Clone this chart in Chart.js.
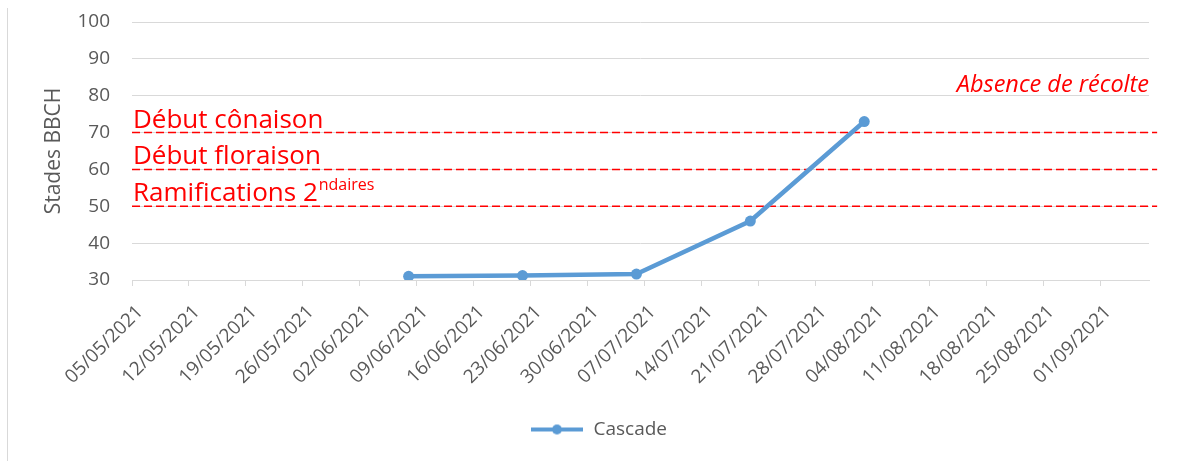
<!DOCTYPE html>
<html>
<head>
<meta charset="utf-8">
<title>Stades BBCH - Cascade</title>
<script src="https://cdn.jsdelivr.net/npm/chart.js@4.4.0/dist/chart.umd.min.js"></script>
<style>
  html, body { margin: 0; padding: 0; background: #fff; }
  #wrap { position: relative; width: 1189px; height: 461px; }
  #wrap:before { content: ''; position: absolute; left: 7px; top: 8px; bottom: 0; border-left: 1px solid #d9d9d9; }
  canvas { display: block; }
</style>
</head>
<body>
<div id="wrap"><canvas id="chart" width="1189" height="461"></canvas></div>
<script>
// weekly ticks on the date axis
const tickDates = ['05/05/2021', '12/05/2021', '19/05/2021', '26/05/2021', '02/06/2021', '09/06/2021',
  '16/06/2021', '23/06/2021', '30/06/2021', '07/07/2021', '14/07/2021', '21/07/2021', '28/07/2021',
  '04/08/2021', '11/08/2021', '18/08/2021', '25/08/2021', '01/09/2021'];
const axisEnd = '07/09/2021';

// observations (variety Cascade)
const obsDates = ['08/06/2021', '22/06/2021', '06/07/2021', '20/07/2021', '03/08/2021'];
const cascade = [31, 31.2, 31.6, 46, 73];

// reference stages
const stageValues = [50, 60, 70];
const stageNames = ['Ramifications 2', 'Début floraison', 'Début cônaison'];
const stageSup = ['ndaires', '', ''];
const stageLineEnd = '08/09/2021';
const noHarvestLevel = 80;
const noHarvestText = 'Absence de récolte';

const yTicks = [30, 40, 50, 60, 70, 80, 90, 100];

const GREY = '#595959';
const GRID = '#d9d9d9';
const RED = '#ff0000';
const BLUE = '#5b9bd5';
const FONT = '"Open Sans", Lato, sans-serif';

function toUtc(s) {
  const p = s.split('/');
  return Date.UTC(+p[2], +p[1] - 1, +p[0]);
}
const t0 = toUtc(tickDates[0]);
function dayNum(s) { return Math.round((toUtc(s) - t0) / 86400000); }
function fmtDay(n) {
  const d = new Date(t0 + n * 86400000);
  const dd = String(d.getUTCDate()).padStart(2, '0');
  const mm = String(d.getUTCMonth() + 1).padStart(2, '0');
  return dd + '/' + mm + '/' + d.getUTCFullYear();
}
const tickDays = tickDates.map(dayNum);

const datasets = [{
  label: 'Cascade',
  data: obsDates.map((d, i) => ({ x: dayNum(d), y: cascade[i] })),
  borderColor: BLUE,
  backgroundColor: BLUE,
  borderWidth: 4.5,
  pointRadius: 5.5,
  pointBorderWidth: 0,
  pointBackgroundColor: BLUE,
  tension: 0,
  order: 0
}];
stageValues.forEach((v, i) => {
  datasets.push({
    label: stageNames[i] + stageSup[i],
    data: [{ x: 0, y: v }, { x: dayNum(stageLineEnd), y: v }],
    borderColor: RED,
    borderWidth: 1.4,
    borderDash: [8, 4],
    pointRadius: 0,
    clip: false,
    order: 1
  });
});

// legend symbol: line with a dot (blank strip on the left nudges the entry right)
const legendIcon = document.createElement('canvas');
legendIcon.width = 102; legendIcon.height = 14;
(function () {
  const g = legendIcon.getContext('2d');
  g.strokeStyle = BLUE; g.lineWidth = 4;
  g.beginPath(); g.moveTo(49, 7); g.lineTo(101, 7); g.stroke();
  g.fillStyle = BLUE;
  g.beginPath(); g.arc(75, 7, 5, 0, Math.PI * 2); g.fill();
})();

const stageText = {
  id: 'stageText',
  afterDatasetsDraw(chart) {
    const ctx = chart.ctx;
    const y = chart.scales.y;
    const area = chart.chartArea;
    ctx.save();
    ctx.fillStyle = RED;
    ctx.textBaseline = 'alphabetic';
    stageValues.forEach((v, i) => {
      const py = y.getPixelForValue(v) - 5;
      ctx.font = '26px ' + FONT;
      ctx.textAlign = 'left';
      ctx.fillText(stageNames[i], area.left + 1, py);
      if (stageSup[i]) {
        const w = ctx.measureText(stageNames[i]).width;
        ctx.font = '16px ' + FONT;
        ctx.fillText(stageSup[i], area.left + 1 + w + 1, py - 11);
      }
    });
    ctx.font = 'italic 23.5px ' + FONT;
    ctx.textAlign = 'right';
    ctx.fillText(noHarvestText, area.right, y.getPixelForValue(noHarvestLevel) - 4);
    ctx.restore();
  }
};

new Chart(document.getElementById('chart'), {
  type: 'line',
  data: { datasets },
  plugins: [stageText],
  options: {
    responsive: false,
    animation: false,
    layout: { padding: { top: 22, right: 40, bottom: 12, left: 0 } },
    scales: {
      x: {
        type: 'linear',
        min: tickDays[0],
        max: dayNum(axisEnd),
        afterBuildTicks(scale) { scale.ticks = tickDays.map(v => ({ value: v })); },
        afterFit(scale) { scale.height = 130; },
        grid: { drawOnChartArea: false, drawTicks: true, tickLength: 6, color: GRID },
        border: { color: GRID, width: 1 },
        ticks: {
          autoSkip: false,
          minRotation: 45,
          maxRotation: 45,
          padding: 15,
          labelOffset: 8,
          color: GREY,
          font: { family: FONT, size: 19 },
          callback: v => fmtDay(v)
        }
      },
      y: {
        min: yTicks[0],
        max: yTicks[yTicks.length - 1],
        afterBuildTicks(scale) { scale.ticks = yTicks.map(v => ({ value: v })); },
        afterFit(scale) { scale.width = 132; scale.paddingTop = 0; scale.paddingBottom = 0; },
        grid: { color: GRID, drawTicks: false },
        border: { display: false },
        ticks: { color: GREY, padding: 22, font: { family: FONT, size: 19 } },
        title: {
          display: true,
          text: 'Stades BBCH',
          color: GREY,
          font: { family: FONT, size: 21 },
          padding: { top: 41, bottom: 0 }
        }
      }
    },
    plugins: {
      legend: {
        position: 'bottom',
        labels: {
          usePointStyle: true,
          pointStyleWidth: 102,
          generateLabels() {
            return [{
              text: 'Cascade', datasetIndex: 0, pointStyle: legendIcon,
              fontColor: GREY, strokeStyle: BLUE, fillStyle: BLUE, lineWidth: 0
            }];
          },
          color: GREY,
          font: { family: FONT, size: 19 },
          padding: 10
        }
      },
      tooltip: { enabled: false }
    }
  }
});
</script>
</body>
</html>
